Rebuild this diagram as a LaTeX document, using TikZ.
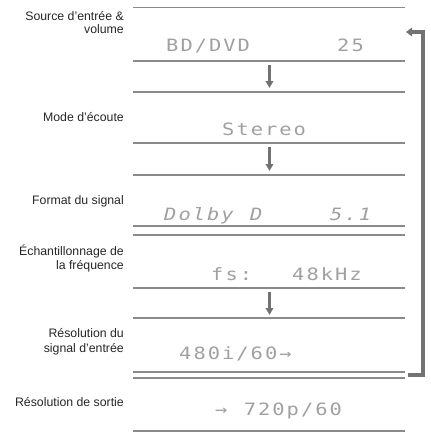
\documentclass[tikz,border=0pt]{standalone}
\usepackage{fontspec}
\setmainfont{Liberation Sans}
\newfontfamily\lcdfont{DejaVu Sans Mono}
\usetikzlibrary{arrows.meta}
\definecolor{rulec}{HTML}{8A8A8A}
\definecolor{lcdc}{HTML}{A0A0A0}
\definecolor{brkc}{HTML}{727272}
\definecolor{lblc}{HTML}{262626}
\newcommand\lcdch[1]{\makebox[14.3pt][c]{\scalebox{1.2}[1]{#1}}}
\makeatletter
\def\lcdloop#1{\ifx#1\@nil\else\lcdch{#1}\expandafter\lcdloop\fi}
\newcommand\lcdtext[1]{\lcdloop#1\@nil}
\makeatother
\tikzset{
  rulel/.style={draw=rulec, line width=1.5pt},
  lbl/.style={anchor=base east, inner sep=0pt, text=lblc, font=\fontsize{12.3}{14}\selectfont},
  lcdt/.style={anchor=base west, inner sep=0pt, text=lcdc, font=\lcdfont\fontsize{17}{17}\selectfont},
  lcdi/.style={lcdt, font=\lcdfont\itshape\fontsize{17}{17}\selectfont},
  downarr/.style={draw=brkc, line width=2.2pt, -{Triangle[length=7pt,width=7.5pt]}},
  brk/.style={draw=brkc, line width=3.3pt, line join=miter, -{Triangle[length=6pt,width=8.5pt]}}
}
\begin{document}
\begin{tikzpicture}[x=1pt,y=-1pt]
\useasboundingbox (0,0) rectangle (431,434);
% rules
\foreach \yy in {7.5,61,92,143,175,226,235,288,318,372,378,431}
  \draw[rulel] (133,\yy) -- (405,\yy);
% labels
\node[lbl] (l1a) at (124,20) {Source d'entrée \&};
\node[lbl] (l1b) at (124,33) {volume};
\node[lbl] (l2) at (124,121) {Mode d'écoute};
\node[lbl] (l3) at (124,204) {Format du signal};
\node[lbl] (l4a) at (124,255) {Échantillonnage de};
\node[lbl] (l4b) at (124,269) {la fréquence};
\node[lbl] (l5a) at (124,337) {Résolution du};
\node[lbl] (l5b) at (124,352) {signal d'entrée};
\node[lbl] (l6) at (124,406) {Résolution de sortie};
% display texts
\node[lcdt] (d1a) at (165,51) {\lcdtext{BD/DVD}};
\node[lcdt] (d1b) at (336,51) {\lcdtext{25}};
\node[lcdt] (d2) at (221,135) {\lcdtext{Stereo}};
\node[lcdi] (d3a) at (163,220) {\lcdtext{Dolby~D}};
\node[lcdi] (d3b) at (329,220) {\lcdtext{5.1}};
\node[lcdt] (d4a) at (210,280) {\lcdtext{fs:}};
\node[lcdt] (d4b) at (291,280) {\lcdtext{48kHz}};
\node[lcdt] (d5) at (178,359) {\lcdtext{480i/60→}};
\node[lcdt] (d6) at (214,415) {\lcdtext{→~720p/60}};
% down arrows
\coordinate (a1s) at (269.5,65);  \coordinate (a1e) at (269.5,88);
\coordinate (a2s) at (269.5,147); \coordinate (a2e) at (269.5,171);
\coordinate (a3s) at (269.5,292); \coordinate (a3e) at (269.5,315);
\draw[downarr] (a1s) -- (a1e);
\draw[downarr] (a2s) -- (a2e);
\draw[downarr] (a3s) -- (a3e);
% return bracket
\coordinate (bs) at (408,375);
\coordinate (bc) at (423,32);
\coordinate (be) at (406,32);
\draw[brk] (bs) -| (bc) -- (be);
\end{tikzpicture}
\end{document}
